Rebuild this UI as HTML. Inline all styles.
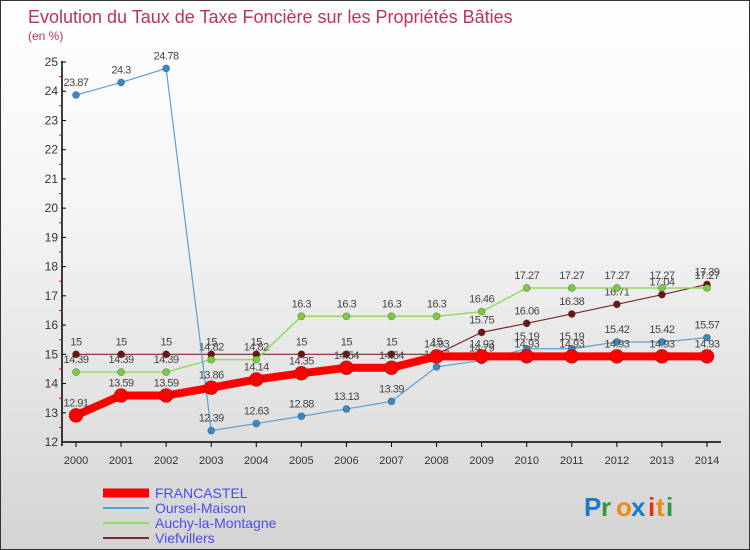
<!DOCTYPE html>
<html><head><meta charset="utf-8"><style>
body{margin:0}
#c{width:750px;height:550px;position:relative;background:linear-gradient(#ffffff,#f4f4f4 40%,#d4d4d4);box-sizing:border-box;border:1px solid #333;overflow:hidden;font-family:"Liberation Sans",sans-serif}
</style></head><body>
<div id="c">
<svg id="s" width="750" height="550" style="position:absolute;left:0;top:0"></svg>
</div>
<script>
const years=[2000,2001,2002,2003,2004,2005,2006,2007,2008,2009,2010,2011,2012,2013,2014];
const francastel=[12.91,13.59,13.59,13.86,14.14,14.35,14.54,14.54,14.93,14.93,14.93,14.93,14.93,14.93,14.93];
const oursel=[23.87,24.3,24.78,12.39,12.63,12.88,13.13,13.39,14.57,14.79,15.19,15.19,15.42,15.42,15.57];
const auchy=[14.39,14.39,14.39,14.82,14.82,16.3,16.3,16.3,16.3,16.46,17.27,17.27,17.27,17.27,17.27];
const viefvillers=[15,15,15,15,15,15,15,15,15,15.75,16.06,16.38,16.71,17.04,17.39];
const yTicks=[12,13,14,15,16,17,18,19,20,21,22,23,24,25];
const seriesNames=["FRANCASTEL","Oursel-Maison","Auchy-la-Montagne","Viefvillers"];
const NS="http://www.w3.org/2000/svg";
const s=document.getElementById('s');
const X=i=>75+i*(631/14);
const Y=v=>441-(v-12)*(380/13);
function el(t,a,p){const e=document.createElementNS(NS,t);for(const k in a)e.setAttribute(k,a[k]);(p||s).appendChild(e);return e;}
function tx(x,y,str,a){const e=el('text',Object.assign({x:x,y:y},a));e.textContent=str;return e;}
let t=tx(27,22,"Evolution du Taux de Taxe Foncière sur les Propriétés Bâties",{fill:"#c0305f","font-size":18});


t=tx(27,39,"(en %)",{fill:"#c0305f","font-size":12});


let ax=el('line',{x1:61,y1:60,x2:61,y2:445,stroke:"#000","stroke-width":1.5});


ax=el('line',{x1:61,y1:441,x2:720,y2:441,stroke:"#000","stroke-width":1.5});


yTicks.forEach((v,i)=>{
  el('line',{x1:61,y1:Y(v),x2:65,y2:Y(v),stroke:"#000"});
  if(i<yTicks.length-1) el('line',{x1:58,y1:Y(v+0.5),x2:61,y2:Y(v+0.5),stroke:"#e00"});
  const l=tx(57,Y(v)+4,String(v),{fill:"#333","font-size":12,"text-anchor":"end"});
  
  
});
years.forEach((y,i)=>{
  el('line',{x1:X(i),y1:441,x2:X(i),y2:446,stroke:"#000"});
  const l=tx(X(i),463,String(y),{fill:"#333","font-size":11,"text-anchor":"middle"});
  
  
});
function series(data,color,w,r,dot,name){
  const g=el('g',{});
  
  
  el('polyline',{points:data.map((v,i)=>X(i)+','+Y(v)).join(' '),fill:"none",stroke:color,"stroke-width":w},g);
  data.forEach((v,i)=>{
    const c=el('circle',{cx:X(i),cy:Y(v),r:r,fill:dot,stroke:"rgba(0,0,0,0.3)","stroke-width":0.8},g);
    
    
    tx(X(i),Y(v)-9,String(v),{fill:"#444","font-size":11,"text-anchor":"middle","letter-spacing":"-0.5"},g);
  });
}
series(viefvillers,"#7a2a2a",1.2,3.5,"#6a1515","series-viefvillers");
series(auchy,"#8fdc60",1.5,3.5,"#7ccc40","series-auchy");
series(oursel,"#5aa0d8",1.2,3.5,"#3a88c8","series-oursel");
series(francastel,"#ff0000",8,7,"#ff0000","series-francastel");
const lc=["#ff0000","#5aa0d8","#8fdc60","#7a2a2a"],lw=[9,2,2,2];
seriesNames.forEach((n,i)=>{
  const g=el('g',{});
  
  
  const y=492+i*15;
  el('line',{x1:102,y1:y,x2:148,y2:y,stroke:lc[i],"stroke-width":lw[i]},g);
  tx(154,y+5,n,{fill:"#4a4af0","font-size":14},g);
});
const lg=el('g',{});


const letters=[["P","#1a7ad0"],["r","#2a9a40"],["o","#f08a10"],["x","#1a7ad0"],["i","#e83010"],["t","#f08a10"],["i","#2a9a40"]];
let lx=583;
letters.forEach(([c,col])=>{tx(lx,515,c,{fill:col,"font-size":26,"font-weight":"bold"},lg);lx+=c=="P"?17:(c=="x"?17:(c=="i"?8:(c=="t"?10:15)));});
</script>
</body></html>
